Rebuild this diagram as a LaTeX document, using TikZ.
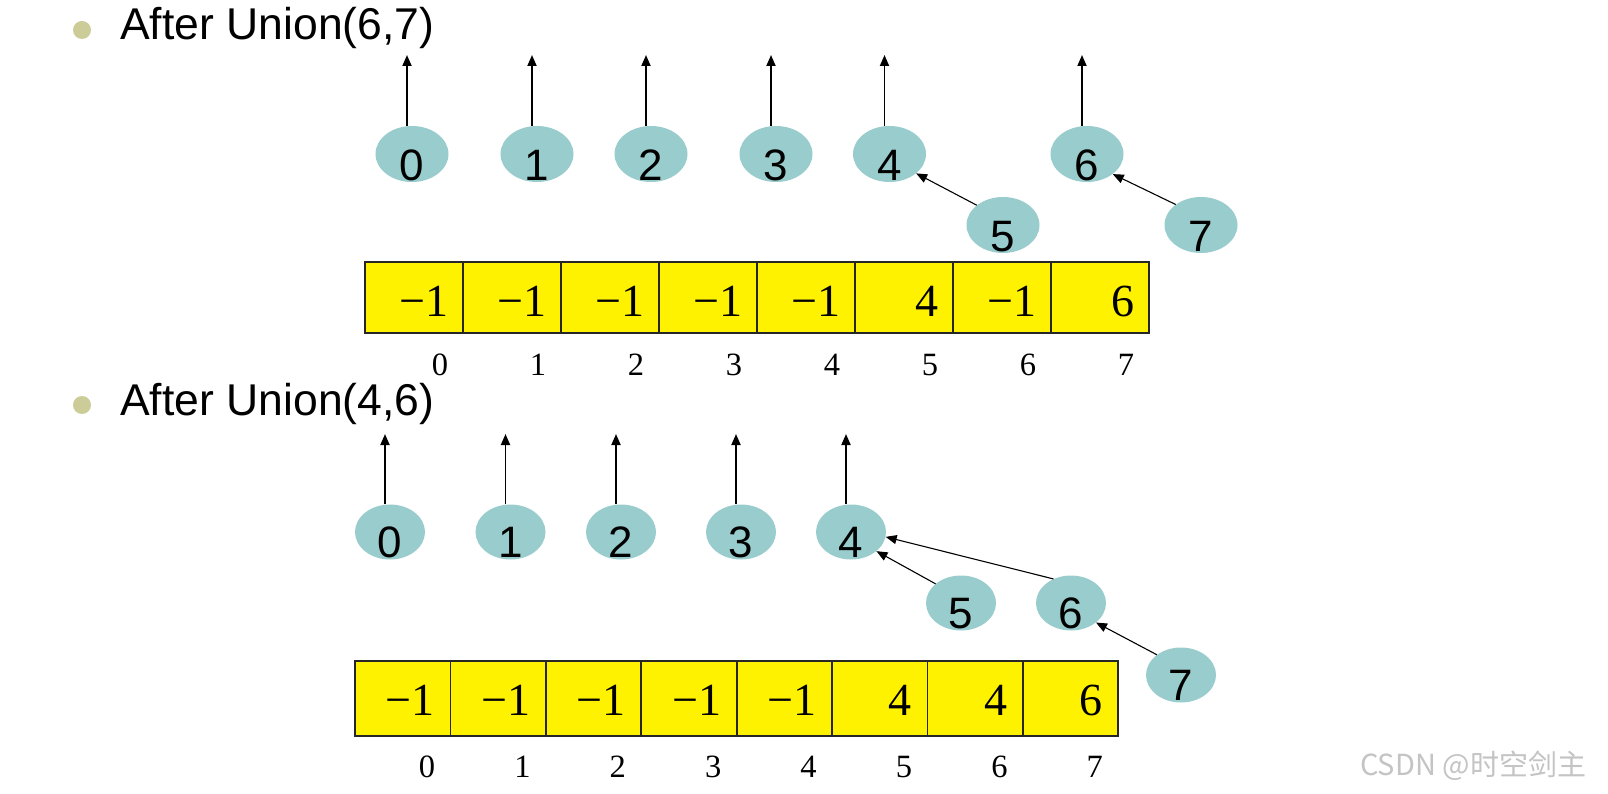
\documentclass[tikz,border=0pt]{standalone}
\usepackage{fontspec}
\setmainfont{Liberation Serif}
\newfontfamily\sansf{Liberation Sans}
\newfontfamily\cjkf{Noto Sans CJK SC}
\usetikzlibrary{shapes.geometric,arrows.meta}
\definecolor{nodeteal}{RGB}{153,204,204}
\definecolor{bulletc}{RGB}{204,204,153}
\definecolor{wmgray}{RGB}{196,196,196}
\tikzset{
  treenode/.style={ellipse, fill=nodeteal, draw=none, inner sep=0pt, minimum width=73pt, minimum height=56pt},
  treenodeb/.style={treenode, minimum width=70pt, minimum height=55pt},
  digit/.style={font=\sansf\fontsize{44}{44}\selectfont, anchor=base, inner sep=0pt},
  title/.style={font=\sansf\fontsize{44.5}{48}\selectfont, anchor=base west, inner sep=0pt},
  rootarrow/.style={line width=1.8pt, -{Triangle[length=11pt,width=9pt]}},
  linkarrow/.style={line width=1.1pt, -{Triangle[length=11pt,width=9pt]}},
  cellA/.style={rectangle, draw=black!85, line width=1.8pt, fill=yellow, inner sep=0pt, minimum width=98pt, minimum height=71pt},
  cellB/.style={cellA, minimum width=95.4pt, minimum height=75pt},
  valtext/.style={font=\fontsize{46}{46}\selectfont, anchor=base east, inner sep=0pt},
  idxtext/.style={font=\fontsize{32.5}{33}\selectfont, anchor=base, inner sep=0pt},
  bulletdot/.style={fill=bulletc}
}
\begin{document}
\begin{tikzpicture}[x=1pt,y=-1pt]
\useasboundingbox (0,0) rectangle (1608,794);
\fill[white] (0,0) rectangle (1608,794);

% ---------- titles ----------
\fill[bulletdot] (82,30) circle[radius=9pt];
\node[title] (title1) at (120,40) {After Union(6,7)};
\fill[bulletdot] (82,405) circle[radius=9pt];
\node[title] (title2) at (120,415) {After Union(4,6)};

% ---------- first forest ----------
\foreach \n/\x/\y in {0/412/154,1/537/154,2/651/154,3/776/154,4/889.5/154,6/1087/154,5/1003/225,7/1201/225}{
  \node[treenode] (u\n) at (\x,\y) {};
  \node[digit] at ([yshift=2pt]u\n.south) {\n};
}
\foreach \n in {0,1,2,3,4,6}{
  \coordinate (ut\n) at ([xshift=-5pt]u\n.north |- 0,55);
  \draw[rootarrow] ([xshift=-5pt]u\n.north) -- (ut\n);
}
\draw[linkarrow] (u5.143) -- (u4.324);
\draw[linkarrow] (u7.141) -- (u6.322);

% ---------- first array ----------
\foreach \i/\v in {0/−1,1/−1,2/−1,3/−1,4/−1,5/4,6/−1,7/6}{
  \node[cellA] (a\i) at ({365+98*\i+49},297.5) {};
  \node[valtext] (av\i) at ({365+98*\i+84},316) {\v};
  \node[idxtext] (ai\i) at ({365+98*\i+75},375) {\i};
}

% ---------- second forest ----------
\foreach \n/\x/\y in {0/390/532,1/510.5/532,2/621/532,3/741/532,4/851/532,5/961/603,6/1071/603,7/1181/675}{
  \node[treenodeb] (w\n) at (\x,\y) {};
  \node[digit] at ([yshift=2pt]w\n.south) {\n};
}
\foreach \n in {0,1,2,3,4}{
  \coordinate (wt\n) at ([xshift=-5pt]w\n.north |- 0,434);
  \draw[rootarrow] ([xshift=-5pt]w\n.north) -- (wt\n);
}
\draw[linkarrow] (w5.143) -- (w4.323);
\draw[linkarrow] (w6.126) -- (w4.352);
\draw[linkarrow] (w7.140) -- (w6.322);

% ---------- second array ----------
\foreach \i/\v in {0/−1,1/−1,2/−1,3/−1,4/−1,5/4,6/4,7/6}{
  \node[cellB] (b\i) at ({355+95.4*\i+47.7},698.5) {};
  \node[valtext] (bv\i) at ({355+95.4*\i+80},715) {\v};
  \node[idxtext] (bi\i) at ({355+95.4*\i+72},777) {\i};
}

% ---------- watermark ----------
\node[font=\cjkf\fontsize{29}{29}\selectfont, text=wmgray, anchor=base west, inner sep=0pt] (wm) at (1360,775) {CSDN @时空剑主};
\end{tikzpicture}
\end{document}
